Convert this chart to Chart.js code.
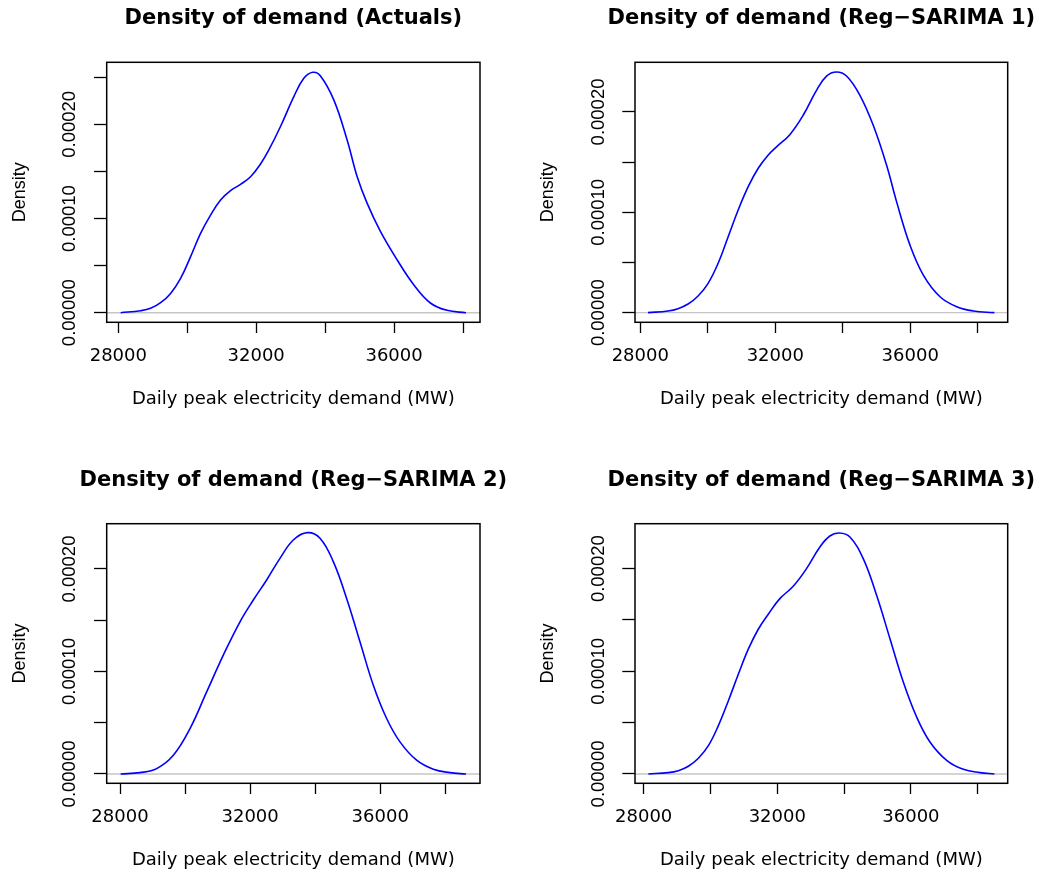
<!DOCTYPE html>
<html>
<head>
<meta charset="utf-8">
<script src="https://cdn.jsdelivr.net/npm/chart.js@4.4.1/dist/chart.umd.min.js"></script>
<style>
    html, body { margin: 0; padding: 0; background: #fff; }
    #wrap { position: relative; width: 1042px; height: 872px; }
    #wrap canvas { position: absolute; }
</style>
</head>
<body>
<div id="wrap">
    <canvas id="c1" width="521" height="436" style="left:0;top:0"></canvas>
    <canvas id="c2" width="521" height="436" style="left:521px;top:0"></canvas>
    <canvas id="c3" width="521" height="436" style="left:0;top:436px"></canvas>
    <canvas id="c4" width="521" height="436" style="left:521px;top:436px"></canvas>
</div>
<script>
// values
const demandActuals = [28068, 28647, 28937, 29227, 29517, 29807, 30097, 30386, 30676, 30966, 31256, 31546, 31836, 32126, 32367, 32705, 33092, 33382, 33643, 33865, 34251, 34638, 34928, 35217, 35604, 36087, 36570, 37053, 37536, 38087];
const densityActuals = [0, 0.0000021, 0.0000046, 0.0000106, 0.0000205, 0.0000365, 0.0000595, 0.0000843, 0.0001037, 0.0001197, 0.0001296, 0.0001363, 0.0001444, 0.0001579, 0.0001728, 0.0001977, 0.0002295, 0.0002489, 0.0002553, 0.0002514, 0.0002260, 0.0001835, 0.0001446, 0.0001163, 0.0000863, 0.0000562, 0.0000297, 0.0000103, 0.0000025, 0];

const demandSarima1 = [28228, 28822, 29119, 29416, 29713, 30010, 30307, 30604, 30901, 31198, 31495, 31792, 32036, 32431, 32827, 33222, 33519, 33816, 34113, 34509, 34904, 35300, 35597, 35993, 36388, 36883, 37377, 37872, 38494];
const densitySarima1 = [0, 0.0000017, 0.0000040, 0.0000086, 0.0000166, 0.0000292, 0.0000492, 0.0000757, 0.0001023, 0.0001256, 0.0001439, 0.0001571, 0.0001652, 0.0001774, 0.0001967, 0.0002216, 0.0002358, 0.0002398, 0.0002358, 0.0002166, 0.0001867, 0.0001469, 0.0001104, 0.0000673, 0.0000375, 0.0000159, 0.0000060, 0.0000017, 0];

const demandSarima2 = [28020, 28615, 29127, 29639, 30152, 30664, 31176, 31689, 32098, 32508, 32918, 33328, 33758, 34148, 34557, 34967, 35377, 35787, 36197, 36607, 37119, 37631, 38143, 38635];
const densitySarima2 = [0, 0.0000013, 0.0000052, 0.0000182, 0.0000443, 0.0000801, 0.0001160, 0.0001485, 0.0001697, 0.0001893, 0.0002104, 0.0002283, 0.0002355, 0.0002300, 0.0002072, 0.0001713, 0.0001290, 0.0000866, 0.0000541, 0.0000313, 0.0000134, 0.0000046, 0.0000013, 0];

const demandSarima3 = [28140, 28739, 29038, 29338, 29637, 29937, 30236, 30536, 30836, 31135, 31435, 31734, 32076, 32476, 32875, 33275, 33574, 33854, 34174, 34573, 34973, 35373, 35772, 36172, 36571, 37071, 37570, 38070, 38500];
const densitySarima3 = [0, 0.0000013, 0.0000032, 0.0000075, 0.0000153, 0.0000276, 0.0000471, 0.0000714, 0.0000974, 0.0001218, 0.0001412, 0.0001558, 0.0001708, 0.0001828, 0.0002000, 0.0002211, 0.0002318, 0.0002347, 0.0002308, 0.0002097, 0.0001740, 0.0001318, 0.0000896, 0.0000555, 0.0000312, 0.0000133, 0.0000045, 0.0000013, 0];

const xTickValues = [28000, 30000, 32000, 34000, 36000, 38000];
const xTickLabels = ['28000', '', '32000', '', '36000', ''];
const yTicksActuals = [0, 0.00005, 0.0001, 0.00015, 0.0002, 0.00025];
const yTicksModels = [0, 0.00005, 0.0001, 0.00015, 0.0002];
const yTickLabels = ['0.00000', '', '0.00010', '', '0.00020', ''];

const xTitle = 'Daily peak electricity demand (MW)';
const yTitle = 'Density';

// one entry per panel: canvas, data, axis ranges (R pads 4%) and plot box
const panels = [
    { id: 'c1', title: 'Density of demand (Actuals)', x: demandActuals, y: densityActuals, yTicks: yTicksActuals,
      xMin: 27663, xMax: 38493, yMin: -0.0000102, yMax: 0.0002659, box: { left: 106.7, top: 62.3, right: 480, bottom: 322.3 } },
    { id: 'c2', title: 'Density of demand (Reg\u2212SARIMA 1)', x: demandSarima1, y: densitySarima1, yTicks: yTicksModels,
      xMin: 27843, xMax: 38889, yMin: -0.0000096, yMax: 0.0002495, box: { left: 114, top: 62.3, right: 486.7, bottom: 322.3 } },
    { id: 'c3', title: 'Density of demand (Reg\u2212SARIMA 2)', x: demandSarima2, y: densitySarima2, yTicks: yTicksModels,
      xMin: 27591, xMax: 39067, yMin: -0.0000091, yMax: 0.0002442, box: { left: 106.7, top: 87.7, right: 480, bottom: 347.3 } },
    { id: 'c4', title: 'Density of demand (Reg\u2212SARIMA 3)', x: demandSarima3, y: densitySarima3, yTicks: yTicksModels,
      xMin: 27740, xMax: 38898, yMin: -0.0000091, yMax: 0.0002438, box: { left: 114, top: 87.7, right: 486.7, bottom: 347.3 } }
];

const W = 521, H = 436;
const wideFont = '"DejaVu Sans", sans-serif';
const narrowFont = '"Liberation Sans", Arial, sans-serif';

// R style extras: grey zero line, box, main title, rotated y labels
const rPanel = {
    id: 'rPanel',
    beforeDatasetsDraw(chart, args, opts) {
        const { ctx, chartArea: a, scales: { y } } = chart;
        const y0 = y.getPixelForValue(0);
        ctx.save();
        ctx.strokeStyle = '#c6c6c6';
        ctx.lineWidth = 1.4;
        ctx.beginPath();
        ctx.moveTo(a.left, y0);
        ctx.lineTo(a.right, y0);
        ctx.stroke();
        ctx.restore();
    },
    afterDraw(chart, args, opts) {
        const { ctx, chartArea: a, scales: { y } } = chart;
        ctx.save();
        ctx.strokeStyle = '#000';
        ctx.lineWidth = 1.5;
        ctx.strokeRect(a.left, a.top, a.right - a.left, a.bottom - a.top);

        ctx.fillStyle = '#000';
        ctx.textAlign = 'center';
        ctx.textBaseline = 'middle';
        ctx.font = 'bold 21px ' + wideFont;
        ctx.fillText(opts.title, (a.left + a.right) / 2, a.top - 43.5);

        ctx.font = '18.5px ' + narrowFont;
        opts.ticks.forEach((v, i) => {
            const label = yTickLabels[i];
            if (!label) return;
            ctx.save();
            ctx.translate(a.left - 36.5, y.getPixelForValue(v));
            ctx.rotate(-Math.PI / 2);
            ctx.fillText(label, 0, 0);
            ctx.restore();
        });
        ctx.restore();
    }
};

panels.forEach(p => {
    const b = p.box;
    new Chart(document.getElementById(p.id), {
        type: 'line',
        data: {
            datasets: [{
                data: p.x.map((v, i) => ({ x: v, y: p.y[i] })),
                borderColor: '#0000ff',
                borderWidth: 1.6,
                pointRadius: 0,
                fill: false,
                tension: 0.4
            }]
        },
        options: {
            responsive: false,
            animation: false,
            devicePixelRatio: 1,
            layout: { padding: { left: 0, top: b.top, right: W - b.right, bottom: 0 } },
            plugins: {
                legend: { display: false },
                tooltip: { enabled: false },
                rPanel: { title: p.title, ticks: p.yTicks }
            },
            scales: {
                x: {
                    type: 'linear',
                    min: p.xMin,
                    max: p.xMax,
                    afterBuildTicks: s => { s.ticks = xTickValues.map(v => ({ value: v })); },
                    afterFit: s => { s.height = H - b.bottom; },
                    border: { display: false },
                    grid: { drawOnChartArea: false, tickLength: 10.7, tickColor: '#000', tickWidth: 1.3 },
                    ticks: {
                        autoSkip: false,
                        maxRotation: 0,
                        padding: 13,
                        color: '#000',
                        font: { family: wideFont, size: 18 },
                        callback: (v, i) => xTickLabels[i]
                    },
                    title: {
                        display: true,
                        text: xTitle,
                        color: '#000',
                        font: { family: wideFont, size: 18 },
                        padding: { top: 0, bottom: 347.7 - b.bottom }
                    }
                },
                y: {
                    type: 'linear',
                    min: p.yMin,
                    max: p.yMax,
                    afterBuildTicks: s => { s.ticks = p.yTicks.map(v => ({ value: v })); },
                    afterFit: s => { s.width = b.left; },
                    border: { display: false },
                    grid: { drawOnChartArea: false, tickLength: 12.7, tickColor: '#000', tickWidth: 1.3 },
                    ticks: { display: false },
                    title: {
                        display: true,
                        text: yTitle,
                        color: '#000',
                        font: { family: narrowFont, size: 18 },
                        padding: { top: b.left - 97.8, bottom: 0 }
                    }
                }
            }
        },
        plugins: [rPanel]
    });
});
</script>
</body>
</html>
